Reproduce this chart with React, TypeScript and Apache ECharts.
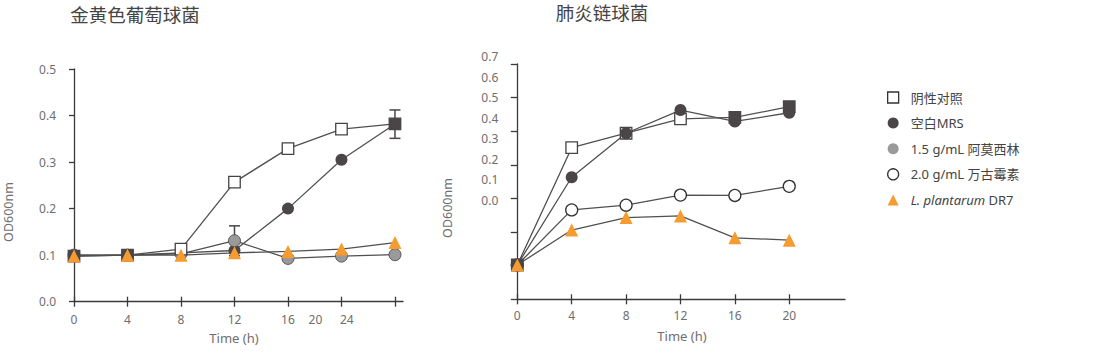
import React, { useEffect, useRef } from "react";
import * as echarts from "echarts";

const FONT = '"Noto Sans", "Noto Sans CJK SC", sans-serif';

const leftTitle = "金黄色葡萄球菌";
const rightTitle = "肺炎链球菌";
const yName = "OD600nm";
const xName = "Time (h)";
const seriesNames = ["阴性对照", "空白MRS", "1.5 g/mL 阿莫西林", "2.0 g/mL 万古霉素", "L. plantarum DR7"];

// ---- Left panel: 金黄色葡萄球菌 ----
const leftTime = [0, 4, 8, 12, 16, 20, 24];
const leftNegative = [0.098, 0.1, 0.113, 0.257, 0.329, 0.371, 0.382];
const leftNegativeDark = [0, 1, 6];
const leftMRS = [0.1, 0.1, 0.105, 0.11, 0.2, 0.305, 0.382];
const leftAmox = [0.1, 0.1, 0.103, 0.131, 0.093, 0.098, 0.101];
const leftLp = [0.098, 0.1, 0.1, 0.105, 0.108, 0.113, 0.127];
const leftErrX = [12, 24];
const leftErrLow = [0.099, 0.351];
const leftErrHigh = [0.163, 0.412];

const leftXTickValues = [0, 4, 8, 12, 16, 20, 24];
const leftXLabelPositions = [0, 4, 8, 12, 16, 18.05, 20.4];
const leftXLabelTexts = ["0", "4", "8", "12", "16", "20", "24"];
const leftYTickValues = [0, 0.1, 0.2, 0.3, 0.4, 0.5];
const leftYLabelTexts = ["0.0", "0.1", "0.2", "0.3", "0.4", "0.5"];

// ---- Right panel: 肺炎链球菌 ----
const rightTime = [0, 4, 8, 12, 16, 20];
const rightNegative = [0.102, 0.451, 0.494, 0.537, 0.541, 0.573];
const rightNegativeDark = [0, 4, 5];
const rightMRS = [0.102, 0.363, 0.494, 0.563, 0.529, 0.555];
const rightVanco = [0.102, 0.266, 0.28, 0.31, 0.309, 0.336];
const rightLp = [0.102, 0.206, 0.243, 0.248, 0.183, 0.176];

const rightXTickValues = [0, 4, 8, 12, 16, 20];
const rightXLabelTexts = ["0", "4", "8", "12", "16", "20"];
const rightYTickValues = [0, 0.1, 0.2, 0.3, 0.4, 0.5, 0.6, 0.7];
const rightYLabelValues = [0, 0.1, 0.2, 0.3, 0.4, 0.5, 0.6, 0.7];
const rightYLabelTexts = ["0.0", "0.1", "0.2", "0.3", "0.4", "0.5", "0.6", "0.7"];

const DARK = "#4a4546";
const LINE = "#505050";
const AXIS = "#3a3a3a";
const LABEL = "#6e6e6e";
const ORANGE = "#F59B2F";
const GRAY = "#9a9a9a";

const lookup = (positions: number[], texts: string[]) => (v: number) => {
  const i = positions.findIndex((p) => Math.abs(p - v) < 0.005);
  return i >= 0 ? texts[i] : "";
};

const pairs = (xs: number[], ys: number[], dark: number[] = []) =>
  xs.map((x, i) =>
    dark.includes(i) ? { value: [x, ys[i]], itemStyle: { color: DARK, borderColor: DARK } } : [x, ys[i]]
  );

function buildOption(): any {
  const labelStyle = { color: LABEL, fontSize: 12, fontFamily: FONT };
  const xMain = (gridIndex: number, max: number, ticks: number[], labelPos: number[], labelTexts: string[], margin: number) => ({
    type: "value",
    gridIndex,
    position: "bottom",
    min: 0,
    max,
    axisLine: { show: true, lineStyle: { color: AXIS, width: 1.3 } },
    axisTick: { show: true, inside: false, length: 5, customValues: ticks, lineStyle: { color: AXIS, width: 1.3 } },
    axisLabel: { show: true, margin, customValues: labelPos, formatter: lookup(labelPos, labelTexts), ...labelStyle },
    splitLine: { show: false },
  });
  const xInner = (gridIndex: number, max: number, ticks: number[]) => ({
    type: "value",
    gridIndex,
    position: "bottom",
    min: 0,
    max,
    axisLine: { show: false },
    axisTick: { show: true, inside: true, length: 5, customValues: ticks, lineStyle: { color: AXIS, width: 1.3 } },
    axisLabel: { show: false },
    splitLine: { show: false },
  });

  const lineBase = {
    type: "line",
    symbolKeepAspect: true,
    lineStyle: { color: LINE, width: 1.3 },
    z: 3,
  };

  return {
    animation: false,
    backgroundColor: "#ffffff",
    textStyle: { fontFamily: FONT },
    grid: [
      { left: 74, top: 69, width: 329, height: 232.7, containLabel: false, outerBoundsMode: "none" },
      { left: 517.3, top: 64, width: 327.7, height: 235.3, containLabel: false, outerBoundsMode: "none" },
      { left: 517.3, top: 56.7, width: 1, height: 143.3, containLabel: false, outerBoundsMode: "none" },
    ],
    xAxis: [
      xMain(0, 24.6, leftXTickValues, leftXLabelPositions, leftXLabelTexts, 12),
      xInner(0, 24.6, leftXTickValues),
      xMain(1, 24.1, rightXTickValues, rightXTickValues, rightXLabelTexts, 10),
      xInner(1, 24.1, rightXTickValues),
      { type: "value", gridIndex: 2, show: false, min: 0, max: 1 },
    ],
    yAxis: [
      {
        type: "value",
        gridIndex: 0,
        min: 0,
        max: 0.5,
        interval: 0.1,
        axisLine: { show: true, lineStyle: { color: AXIS, width: 1.3 } },
        axisTick: { show: true, length: 5, customValues: leftYTickValues, lineStyle: { color: AXIS, width: 1.3 } },
        axisLabel: { show: true, margin: 18, customValues: leftYTickValues, formatter: lookup(leftYTickValues, leftYLabelTexts), ...labelStyle },
        splitLine: { show: false },
      },
      {
        type: "value",
        gridIndex: 1,
        min: 0,
        max: 0.7,
        interval: 0.1,
        axisLine: { show: true, lineStyle: { color: AXIS, width: 1.3 } },
        axisTick: { show: true, length: 6.5, customValues: rightYTickValues, lineStyle: { color: AXIS, width: 1.3 } },
        axisLabel: { show: false },
        splitLine: { show: false },
      },
      {
        type: "value",
        gridIndex: 2,
        min: 0,
        max: 0.7,
        interval: 0.1,
        axisLine: { show: false },
        axisTick: { show: false },
        axisLabel: { show: true, margin: 19, customValues: rightYLabelValues, formatter: lookup(rightYLabelValues, rightYLabelTexts), ...labelStyle },
        splitLine: { show: false },
      },
    ],
    legend: {
      orient: "vertical",
      left: 882,
      top: 86,
      itemWidth: 11,
      itemHeight: 11,
      itemGap: 12.6,
      selectedMode: false,
      symbolKeepAspect: true,
      textStyle: {
        color: "#444",
        fontSize: 13,
        lineHeight: 12,
        fontFamily: FONT,
        rich: {
          s: { width: 7 },
          n: { color: "#444", fontSize: 13, lineHeight: 12, fontFamily: FONT },
          i: { fontStyle: "italic", color: "#444", fontSize: 13, lineHeight: 12, fontFamily: FONT },
        },
      },
      formatter: (name: string) =>
        name === seriesNames[4] ? "{s|}{i|L. plantarum}{n| DR7}" : "{s|}{n|" + name + "}",
      data: [
        { name: seriesNames[0], icon: "rect", itemStyle: { color: "#fff", borderColor: "#333", borderWidth: 1.3 } },
        { name: seriesNames[1], icon: "circle", itemStyle: { color: DARK, borderWidth: 0 } },
        { name: seriesNames[2], icon: "circle", itemStyle: { color: GRAY, borderWidth: 0 } },
        { name: seriesNames[3], icon: "circle", itemStyle: { color: "#fff", borderColor: "#333", borderWidth: 1.3 } },
        { name: seriesNames[4], icon: "triangle", itemStyle: { color: ORANGE, borderWidth: 0 } },
      ],
    },
    graphic: [
      { type: "text", x: 135, y: 14, style: { text: leftTitle, fill: "#444", fontSize: 18.5, fontFamily: FONT, align: "center", verticalAlign: "middle" } },
      { type: "text", x: 602, y: 12, style: { text: rightTitle, fill: "#444", fontSize: 18.5, fontFamily: FONT, align: "center", verticalAlign: "middle" } },
      { type: "text", x: 8.5, y: 212, rotation: Math.PI / 2, style: { text: yName, fill: LABEL, fontSize: 12.5, fontFamily: FONT, align: "center", verticalAlign: "middle" } },
      { type: "text", x: 447.5, y: 208, rotation: Math.PI / 2, style: { text: yName, fill: LABEL, fontSize: 12.5, fontFamily: FONT, align: "center", verticalAlign: "middle" } },
      { type: "text", x: 234, y: 338, style: { text: xName, fill: LABEL, fontSize: 13, fontFamily: FONT, align: "center", verticalAlign: "middle" } },
      { type: "text", x: 682, y: 336, style: { text: xName, fill: LABEL, fontSize: 13, fontFamily: FONT, align: "center", verticalAlign: "middle" } },
    ],
    series: [
      {
        type: "custom",
        name: "error",
        xAxisIndex: 0,
        yAxisIndex: 0,
        z: 2,
        encode: { x: 0, y: [1, 2] },
        data: leftErrX.map((x, i) => [x, leftErrLow[i], leftErrHigh[i]]),
        renderItem: (params: any, api: any) => {
          const x = api.value(0);
          const lo = api.coord([x, api.value(1)]);
          const hi = api.coord([x, api.value(2)]);
          const hw = 5.5;
          const style = { stroke: DARK, lineWidth: 1.5 };
          return {
            type: "group",
            children: [
              { type: "line", shape: { x1: lo[0], y1: lo[1], x2: hi[0], y2: hi[1] }, style },
              { type: "line", shape: { x1: lo[0] - hw, y1: lo[1], x2: lo[0] + hw, y2: lo[1] }, style },
              { type: "line", shape: { x1: hi[0] - hw, y1: hi[1], x2: hi[0] + hw, y2: hi[1] }, style },
            ],
          };
        },
      },
      {
        ...lineBase,
        name: seriesNames[1],
        xAxisIndex: 0,
        yAxisIndex: 0,
        symbol: "circle",
        symbolSize: 12,
        itemStyle: { color: DARK },
        data: pairs(leftTime, leftMRS),
      },
      {
        ...lineBase,
        name: seriesNames[2],
        xAxisIndex: 0,
        yAxisIndex: 0,
        symbol: "circle",
        symbolSize: 12,
        itemStyle: { color: GRAY, borderColor: "#555", borderWidth: 1 },
        data: pairs(leftTime, leftAmox),
      },
      {
        ...lineBase,
        name: seriesNames[0],
        xAxisIndex: 0,
        yAxisIndex: 0,
        symbol: "rect",
        symbolSize: 11.5,
        itemStyle: { color: "#fff", borderColor: "#444", borderWidth: 1.3 },
        data: pairs(leftTime, leftNegative, leftNegativeDark),
      },
      {
        ...lineBase,
        name: seriesNames[4],
        xAxisIndex: 0,
        yAxisIndex: 0,
        symbol: "triangle",
        symbolSize: 13,
        itemStyle: { color: ORANGE },
        data: pairs(leftTime, leftLp),
      },
      {
        ...lineBase,
        name: seriesNames[3],
        xAxisIndex: 2,
        yAxisIndex: 1,
        symbol: "circle",
        symbolSize: 12,
        itemStyle: { color: "#fff", borderColor: "#333", borderWidth: 1.3 },
        data: pairs(rightTime, rightVanco),
      },
      {
        ...lineBase,
        name: seriesNames[0],
        xAxisIndex: 2,
        yAxisIndex: 1,
        symbol: "rect",
        symbolSize: 11.5,
        itemStyle: { color: "#fff", borderColor: "#444", borderWidth: 1.3 },
        data: pairs(rightTime, rightNegative, rightNegativeDark),
      },
      {
        ...lineBase,
        name: seriesNames[1],
        xAxisIndex: 2,
        yAxisIndex: 1,
        symbol: "circle",
        symbolSize: 12,
        itemStyle: { color: DARK },
        data: pairs(rightTime, rightMRS),
      },
      {
        ...lineBase,
        name: seriesNames[4],
        xAxisIndex: 2,
        yAxisIndex: 1,
        symbol: "triangle",
        symbolSize: 13,
        itemStyle: { color: ORANGE },
        data: pairs(rightTime, rightLp),
      },
    ],
  };
}

export default function App() {
  const ref = useRef<HTMLDivElement>(null);
  useEffect(() => {
    if (!ref.current) return;
    const chart = echarts.init(ref.current, undefined, { renderer: "svg" });
    chart.setOption(buildOption());
    return () => chart.dispose();
  }, []);
  return (
    <div
      ref={ref}
      style={{ position: "fixed", left: 0, top: 0, width: 1106, height: 354, background: "#fff" }}
    />
  );
}
